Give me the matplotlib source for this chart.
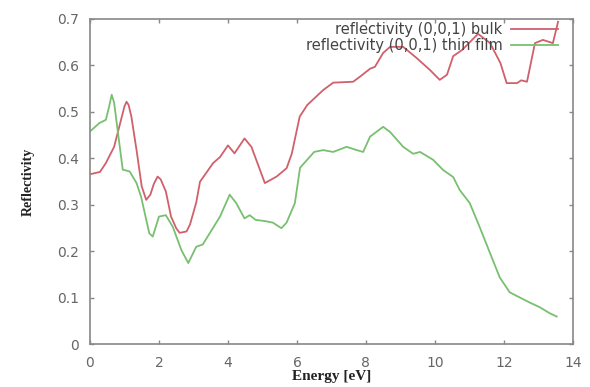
import matplotlib.pyplot as plt

# bulk reflectivity
bulk_e = [0.0, 0.29, 0.46, 0.7, 0.9, 1.0, 1.06, 1.12, 1.2, 1.35, 1.5, 1.63, 1.75, 1.85,
          1.96, 2.05, 2.2, 2.35, 2.5, 2.6, 2.8, 2.9, 3.08, 3.19, 3.57, 3.77, 4.0, 4.19,
          4.48, 4.68, 5.07, 5.41, 5.7, 5.85, 6.08, 6.3, 6.76, 7.05, 7.63, 7.83, 8.12,
          8.26, 8.5, 8.7, 9.08, 9.47, 9.86, 10.14, 10.35, 10.53, 10.8, 11.25, 11.6,
          11.9, 12.08, 12.38, 12.5, 12.67, 12.9, 13.13, 13.42, 13.57]
bulk_r = [0.366, 0.371, 0.39, 0.425, 0.483, 0.512, 0.522, 0.515, 0.49, 0.418, 0.34,
          0.311, 0.322, 0.345, 0.361, 0.355, 0.329, 0.275, 0.25, 0.24, 0.243, 0.258,
          0.305, 0.35, 0.39, 0.403, 0.428, 0.411, 0.443, 0.425, 0.347, 0.361, 0.379,
          0.41, 0.49, 0.515, 0.547, 0.563, 0.565, 0.576, 0.593, 0.597, 0.627, 0.64,
          0.64, 0.616, 0.59, 0.569, 0.58, 0.62, 0.634, 0.668, 0.648, 0.605, 0.562,
          0.562, 0.568, 0.565, 0.648, 0.655, 0.648, 0.694]

# thin film reflectivity
film_e = [0.0, 0.27, 0.46, 0.55, 0.63, 0.7, 0.85, 0.95, 1.15, 1.35, 1.48, 1.72, 1.82,
          2.0, 2.2, 2.4, 2.65, 2.85, 3.08, 3.27, 3.47, 3.77, 4.05, 4.24, 4.48, 4.63,
          4.8, 5.1, 5.3, 5.55, 5.7, 5.94, 6.09, 6.5, 6.76, 7.05, 7.44, 7.73, 7.92,
          8.12, 8.5, 8.7, 9.08, 9.37, 9.57, 9.95, 10.24, 10.53, 10.72, 11.01, 11.3,
          11.6, 11.88, 12.17, 12.46, 12.75, 13.04, 13.33, 13.53]
film_r = [0.458, 0.476, 0.483, 0.51, 0.537, 0.52, 0.433, 0.376, 0.372, 0.347, 0.318,
          0.239, 0.232, 0.275, 0.278, 0.253, 0.203, 0.175, 0.21, 0.215, 0.239, 0.275,
          0.322, 0.304, 0.271, 0.278, 0.268, 0.265, 0.262, 0.25, 0.262, 0.304, 0.38,
          0.414, 0.418, 0.414, 0.425, 0.418, 0.414, 0.447, 0.468, 0.457, 0.425, 0.41,
          0.414, 0.397, 0.375, 0.36, 0.332, 0.304, 0.252, 0.196, 0.144, 0.112, 0.101,
          0.09, 0.08, 0.067, 0.06]

fig = plt.figure(figsize=(5.9, 3.87), dpi=100)
ax = fig.add_axes([0.1525, 0.11, 0.8185, 0.841])

ax.plot(bulk_e, bulk_r, color='#d0606c', lw=1.3, label='reflectivity (0,0,1) bulk')
ax.plot(film_e, film_r, color='#78c070', lw=1.3, label='reflectivity (0,0,1) thin film')

ax.set_xlim(0, 14)
ax.set_ylim(0, 0.7)
ax.set_xticks([0, 2, 4, 6, 8, 10, 12, 14])
ax.set_yticks([0, 0.1, 0.2, 0.3, 0.4, 0.5, 0.6, 0.7])
ax.set_yticklabels(['0', '0.1', '0.2', '0.3', '0.4', '0.5', '0.6', '0.7'])
ax.tick_params(direction='in', top=True, right=True, length=3, width=1,
               colors='#888888', labelcolor='#666666', labelsize=10, pad=8)
for s in ax.spines.values():
    s.set_color('#888888')
    s.set_linewidth(1.2)

ax.set_xlabel('Energy [eV]', family='Liberation Serif', fontsize=11, fontweight='bold',
              color='#222222')
ax.xaxis.set_label_coords(0.5, -0.08)
ax.set_ylabel('Reflectivity', family='Liberation Serif', fontsize=10, fontweight='bold',
              color='#222222')
ax.yaxis.set_label_coords(-0.114, 0.5)

leg = ax.legend(loc='upper right', frameon=False, markerfirst=False, fontsize=10.5,
                handlelength=3.2, borderaxespad=0, borderpad=0.2, labelspacing=0.1,
                handletextpad=0.6, bbox_to_anchor=(0.975, 1.0))
for t in leg.get_texts():
    t.set_color('#444444')

fig.savefig('out.png', dpi=100)
